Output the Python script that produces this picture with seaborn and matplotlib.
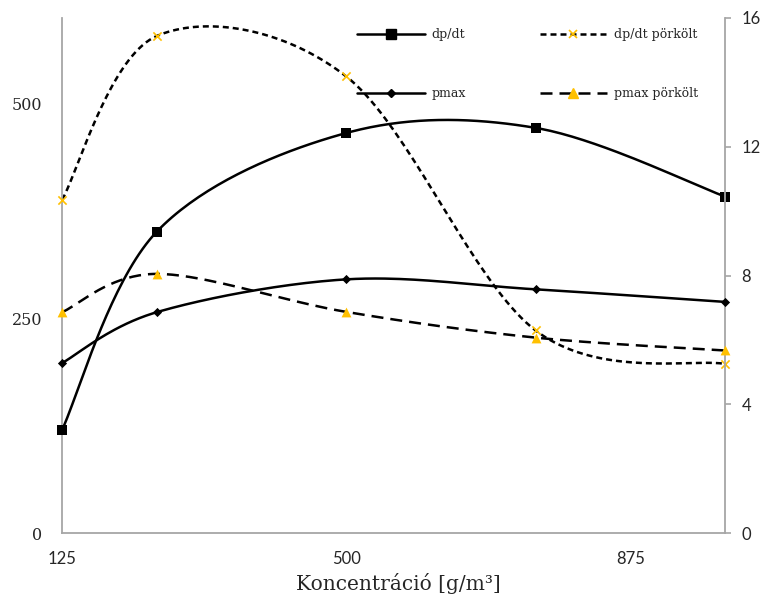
import matplotlib
matplotlib.use("Agg")
import matplotlib.pyplot as plt
import numpy as np
import pandas as pd
import seaborn as sns
from matplotlib.lines import Line2D

# adatok
konc = [125, 250, 500, 750, 1000]
dpdt = [120, 351, 466, 472, 392]
dpdt_pork = [388, 579, 532, 236, 197]
pmax = [5.28, 6.86, 7.88, 7.57, 7.18]
pmax_pork = [6.86, 8.05, 6.87, 6.07, 5.67]

GOLD = "#FFC000"
GREY = "#A6A6A6"


def smooth(x, y, n=40):
    # Excel-like smoothed line: bezier segments through the data points
    p = np.column_stack([x, y]).astype(float)
    p = np.vstack([p[0], p, p[-1]])
    t = np.linspace(0, 1, n)[:, None]
    out = []
    for i in range(1, len(p) - 2):
        p0, p1, p2, p3 = p[i - 1], p[i], p[i + 1], p[i + 2]
        c1 = p1 + (p2 - p0) / 6
        c2 = p2 - (p3 - p1) / 6
        seg = (1 - t) ** 3 * p1 + 3 * (1 - t) ** 2 * t * c1 + 3 * (1 - t) * t ** 2 * c2 + t ** 3 * p2
        out.append(seg if i == 1 else seg[1:])
    s = np.vstack(out)
    return pd.DataFrame({"x": s[:, 0], "y": s[:, 1]})


sns.set_style("white")
plt.rcParams["font.family"] = ["DejaVu Serif"]

fig = plt.figure(figsize=(7.67, 6.10), dpi=100)
ax = fig.add_axes([62 / 767, 1 - 533 / 610, 663 / 767, 515 / 610])
ax2 = ax.twinx()

lw = 1.8
short_dash = (0, (2.4, 1.6))
long_dash = (0, (4.8, 2.8))

# dp/dt (bal tengely)
sns.lineplot(data=smooth(konc, dpdt), x="x", y="y", ax=ax, sort=False, estimator=None,
             color="black", lw=lw)
sns.lineplot(data=smooth(konc, dpdt_pork), x="x", y="y", ax=ax, sort=False, estimator=None,
             color="black", lw=lw, linestyle=short_dash)
sns.scatterplot(x=konc, y=dpdt, ax=ax, marker="s", s=45, color="black", linewidth=0,
                zorder=5, clip_on=False)
sns.scatterplot(x=konc, y=dpdt_pork, ax=ax, marker="x", s=35, color=GOLD, linewidth=1.2,
                zorder=5, clip_on=False)

# pmax (jobb tengely)
sns.lineplot(data=smooth(konc, pmax), x="x", y="y", ax=ax2, sort=False, estimator=None,
             color="black", lw=lw)
sns.lineplot(data=smooth(konc, pmax_pork), x="x", y="y", ax=ax2, sort=False, estimator=None,
             color="black", lw=lw, linestyle=long_dash)
sns.scatterplot(x=konc, y=pmax, ax=ax2, marker="D", s=22, color="black", linewidth=0,
                zorder=5, clip_on=False)
sns.scatterplot(x=konc, y=pmax_pork, ax=ax2, marker="^", s=50, color=GOLD, linewidth=0,
                zorder=5, clip_on=False)

ax.set_xlim(125, 1000)
ax.set_ylim(0, 600)
ax2.set_ylim(0, 16)
ax.set_xticks([125, 500, 875])
ax.set_yticks([0, 250, 500])
ax2.set_yticks([0, 4, 8, 12, 16])
ax.set_xticklabels(["125", "500", "875"], family="Lato", fontsize=12)
ax.set_yticklabels(["0", "250", "500"], fontsize=11.5)
ax2.set_yticklabels(["0", "4", "8", "12", "16"], family="Lato", fontsize=12)

ax.set_xlabel("Koncentráció [g/m³]", fontsize=14.5)
ax.xaxis.set_label_coords(0.508, -0.078)
ax.set_ylabel("")
ax2.set_ylabel("")

for a in (ax, ax2):
    a.spines["top"].set_visible(False)
    for s in a.spines.values():
        s.set_color(GREY)
        s.set_linewidth(1.3)
ax.spines["right"].set_visible(False)
ax2.spines["left"].set_visible(False)
ax2.spines["bottom"].set_visible(False)

ax.tick_params(axis="y", length=0, pad=14)
ax.tick_params(axis="x", length=0, pad=13)
ax2.tick_params(axis="y", length=4, width=1.2, color=GREY, direction="out", pad=8)

handles = [
    Line2D([], [], color="black", lw=lw, marker="s", markersize=7),
    Line2D([], [], color="black", lw=lw, marker="D", markersize=4.5),
    Line2D([], [], color="black", lw=lw, linestyle=short_dash, marker="x",
           markersize=6, markeredgecolor=GOLD, markeredgewidth=1.2),
    Line2D([], [], color="black", lw=lw, linestyle=long_dash, marker="^",
           markersize=7, markerfacecolor=GOLD, markeredgecolor=GOLD),
]
labels = ["dp/dt", "pmax", "dp/dt pörkölt", "pmax pörkölt"]
fig.legend(handles, labels, ncol=2, loc="upper left",
           bbox_to_anchor=(357 / 767, 1 - 28 / 610), frameon=False,
           fontsize=9, handlelength=5.4, handletextpad=0.55,
           columnspacing=5.9, labelspacing=3.7, borderpad=0, borderaxespad=0)

fig.savefig("out.png", dpi=100)
